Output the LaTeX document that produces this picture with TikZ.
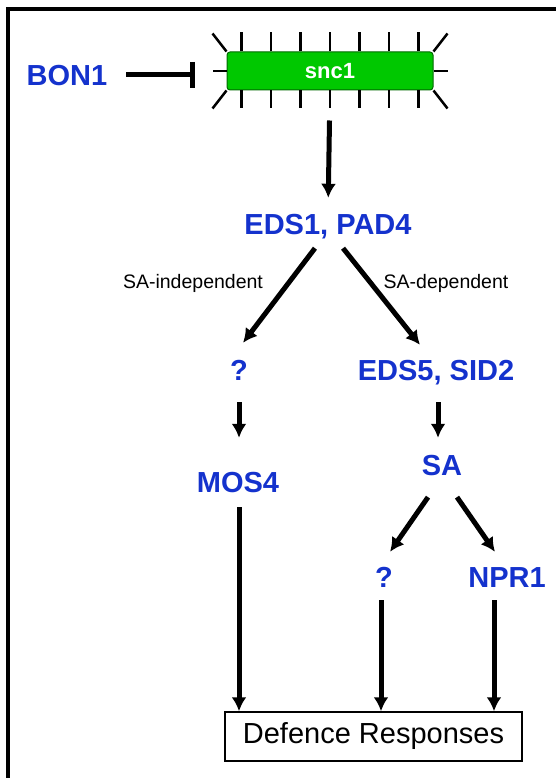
\documentclass[tikz,border=0pt]{standalone}
\usepackage{fontspec}
\setmainfont{Liberation Sans}
\usetikzlibrary{arrows.meta}
\definecolor{geneblue}{RGB}{20,50,205}
\definecolor{sncgreen}{RGB}{0,200,0}
\definecolor{sncedge}{RGB}{0,105,0}
\tikzset{>={Latex[length=14pt,width=15pt]},
  gene/.style={text=geneblue,inner sep=0pt,text height=21pt,text depth=0pt,
    font=\fontsize{29}{34}\selectfont\bfseries},
  note/.style={inner sep=0pt,font=\fontsize{19.5}{23}\selectfont},
  link/.style={line width=5pt,->},
  tick/.style={line width=2.5pt}
}

\begin{document}
\begin{tikzpicture}[x=1pt,y=-1pt]
  \useasboundingbox (0,0) rectangle (556,778);
  \draw[line width=4pt] (8,778) -- (8,9) -- (556,9);
  \node[gene] (bon) at (67,75) {BON1};
  \node[draw=sncedge,fill=sncgreen,rounded corners=3pt,line width=1pt,
    minimum width=206pt,minimum height=38pt,text=white,
    font=\fontsize{22}{26}\selectfont\bfseries] (snc) at (330,71) {snc1};
  \foreach \i in {-3,...,3} {
    \draw[tick] ([xshift=\i*29.55pt]snc.north) -- ++(0,-19);
    \draw[tick] ([xshift=\i*29.55pt]snc.south) -- ++(0,18);
  }
  \draw[tick] (snc.north west) -- ++(-14,-18);
  \draw[tick] (snc.north east) -- ++(14,-18);
  \draw[tick] (snc.south west) -- ++(-14,18);
  \draw[tick] (snc.south east) -- ++(14,18);
  \draw[tick] (snc.west) -- ++(-14,0);
  \draw[tick] (snc.east) -- ++(14,0);
  \draw[line width=5pt,-{Bar[width=26pt]},shorten <=19pt,shorten >=32pt]
    (bon.east) -- (bon.east -| snc.west);
  \node[gene] (eds) at (328,223.5) {EDS1, PAD4};
  \node[gene] (unk1) at (239,370) {?};
  \node[gene] (eds5) at (436,370) {EDS5, SID2};
  \node[gene] (mos) at (238,482) {MOS4};
  \node[gene] (sa) at (442,465) {SA};
  \node[gene] (unk2) at (384,577) {?};
  \node[gene] (npr) at (507,577) {NPR1};
  \node[note] (indep) at (193,283) {SA-independent};
  \node[note] (dep) at (446,283) {SA-dependent};
  \node[draw,line width=1.5pt,minimum width=297pt,minimum height=49pt,inner sep=0pt,
    font=\fontsize{29}{34}\selectfont] (resp) at (373.5,736.5) {Defence Responses};
  % pathway
  \draw[link,shorten <=30pt,shorten >=15pt] (snc.south) -- (eds.north);
  \draw[link,shorten <=17.6pt,shorten >=20.7pt]
    ([xshift=-2.4pt]eds.south) -- ([xshift=-8.5pt]unk1.north);
  \draw[link,shorten <=17.9pt,shorten >=18.5pt]
    ([xshift=3.9pt]eds.south) -- ([xshift=-4.5pt]eds5.north);
  \draw[link,shorten <=21.5pt,shorten >=33.5pt] (unk1.south) -- (unk1.south |- mos.north);
  \draw[link,shorten <=21.5pt,shorten >=16.5pt] ([xshift=2pt]eds5.south) -- ([xshift=2pt]eds5.south |- sa.north);
  \draw[link,shorten <=26.1pt,shorten >=17.6pt]
    ([xshift=0.9pt]sa.south) -- ([xshift=-4pt]unk2.north);
  \draw[link,shorten <=26.1pt,shorten >=17.6pt]
    ([xshift=0.1pt]sa.south) -- ([xshift=-2pt]npr.north);
  % to responses
  \draw[link,shorten <=14.5pt] ([xshift=1pt]mos.south) -- ([xshift=1pt]mos.south |- resp.north);
  \draw[link,shorten <=12.5pt] ([xshift=-3pt]unk2.south) -- ([xshift=-3pt]unk2.south |- resp.north);
  \draw[link,shorten <=12.5pt] ([xshift=-13pt]npr.south) -- ([xshift=-13pt]npr.south |- resp.north);
\end{tikzpicture}
\end{document}
